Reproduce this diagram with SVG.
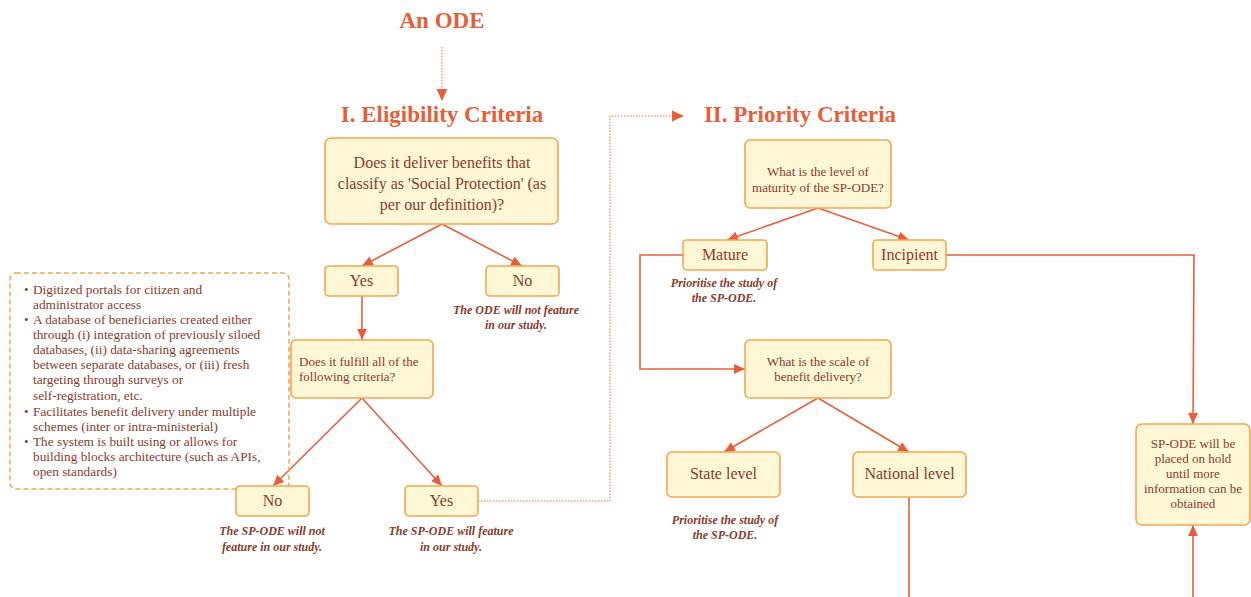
<svg xmlns="http://www.w3.org/2000/svg" width="1251" height="597" viewBox="0 0 1251 597">
<style>
.box{fill:#fff7d6;stroke:#f4a650;stroke-width:1.6}
.t{font-family:"Liberation Serif",serif;fill:#8a3b2b;text-anchor:middle}
.q{font-size:16px}
.s{font-size:13px}
.n{font-family:"Liberation Serif",serif;font-style:italic;font-weight:bold;font-size:12px;fill:#8a3b2b;text-anchor:middle}
.h{font-family:"Liberation Serif",serif;font-weight:bold;font-size:23px;fill:#e5603a;text-anchor:middle}
.c{fill:none;stroke:#e5603a;stroke-width:1.6}
.d{fill:none;stroke:#e8744a;stroke-width:1;stroke-dasharray:1.5 1.5}
.l{font-family:"Liberation Serif",serif;font-size:13.3px;fill:#8a3b2b}
</style>
<defs>
<marker id="ah" viewBox="0 0 10 10" refX="10" refY="5" markerWidth="11" markerHeight="11" markerUnits="userSpaceOnUse" orient="auto">
<path d="M0,0.5 L10,5 L0,9.5 z" fill="#e5603a"/>
</marker>
<marker id="ahb" viewBox="0 0 10 10" refX="10" refY="5" markerWidth="12" markerHeight="12" markerUnits="userSpaceOnUse" orient="auto">
<path d="M0,0.5 L10,5 L0,9.5 z" fill="#e5603a"/>
</marker>
</defs>

<text class="h" x="442" y="28">An ODE</text>
<text class="h" x="442" y="122">I. Eligibility Criteria</text>
<text class="h" x="800" y="122">II. Priority Criteria</text>

<g id="connectors">
<path class="d" d="M442,47 V101" marker-end="url(#ahb)"/>
<path class="c" d="M442,224 L362,266" marker-end="url(#ah)"/>
<path class="c" d="M442,224 L522,266" marker-end="url(#ah)"/>
<path class="c" d="M362,296 V340" marker-end="url(#ah)"/>
<path class="c" d="M362,398 L273,486" marker-end="url(#ah)"/>
<path class="c" d="M362,398 L442,486" marker-end="url(#ah)"/>
<path class="d" d="M478,501 H610 V116 H684" marker-end="url(#ahb)"/>
<path class="c" d="M818,208 L727,240" marker-end="url(#ah)"/>
<path class="c" d="M818,208 L909,240" marker-end="url(#ah)"/>
<path class="c" d="M683,255 H640 V369 H745" marker-end="url(#ah)"/>
<path class="c" d="M818,398 L724,452" marker-end="url(#ah)"/>
<path class="c" d="M818,398 L909,452" marker-end="url(#ah)"/>
<path class="c" d="M909,497 V597"/>
<path class="c" d="M946,255 H1194 L1193,424" marker-end="url(#ah)"/>
<path class="c" d="M1193,597 V525" marker-end="url(#ah)"/>
</g>

<g id="q1">
<rect class="box" x="325" y="138" width="233" height="86" rx="6"/>
<text class="t q" x="442" y="168">Does it deliver benefits that</text>
<text class="t q" x="442" y="189">classify as 'Social Protection' (as</text>
<text class="t q" x="442" y="210">per our definition)?</text>
</g>
<g id="yes1">
<rect class="box" x="325" y="266" width="73" height="30" rx="4"/>
<text class="t q" x="361.5" y="286">Yes</text>
</g>
<g id="no1">
<rect class="box" x="486" y="266" width="73" height="30" rx="4"/>
<text class="t q" x="522.5" y="286">No</text>
<text class="n" x="516" y="314">The ODE will not feature</text>
<text class="n" x="516" y="329">in our study.</text>
</g>
<g id="criteria">
<rect x="10" y="273" width="279" height="216" rx="6" fill="none" stroke="#f4a650" stroke-width="1.5" stroke-dasharray="5 3"/>
<text class="l"><tspan x="24" y="294">•</tspan><tspan x="33" y="294">Digitized portals for citizen and</tspan>
<tspan x="33" y="309">administrator access</tspan>
<tspan x="24" y="324">•</tspan><tspan x="33" y="324">A database of beneficiaries created either</tspan>
<tspan x="33" y="339">through (i) integration of previously siloed</tspan>
<tspan x="33" y="354">databases, (ii) data-sharing agreements</tspan>
<tspan x="33" y="369">between separate databases, or (iii) fresh</tspan>
<tspan x="33" y="384">targeting through surveys or</tspan>
<tspan x="33" y="400">self-registration, etc.</tspan>
<tspan x="24" y="416">•</tspan><tspan x="33" y="416">Facilitates benefit delivery under multiple</tspan>
<tspan x="33" y="431">schemes (inter or intra-ministerial)</tspan>
<tspan x="24" y="446">•</tspan><tspan x="33" y="446">The system is built using or allows for</tspan>
<tspan x="33" y="461">building blocks architecture (such as APIs,</tspan>
<tspan x="33" y="476">open standards)</tspan></text>
</g>
<g id="q2">
<rect class="box" x="291" y="340" width="142" height="58" rx="5"/>
<text class="t s" x="299" y="366" style="text-anchor:start">Does it fulfill all of the</text>
<text class="t s" x="299" y="381" style="text-anchor:start">following criteria?</text>
</g>
<g id="no2">
<rect class="box" x="236" y="486" width="73" height="30" rx="4"/>
<text class="t q" x="272.5" y="506">No</text>
<text class="n" x="272" y="535">The SP-ODE will not</text>
<text class="n" x="272" y="551">feature in our study.</text>
</g>
<g id="yes2">
<rect class="box" x="405" y="486" width="73" height="30" rx="4"/>
<text class="t q" x="441.5" y="506">Yes</text>
<text class="n" x="451" y="535">The SP-ODE will feature</text>
<text class="n" x="451" y="551">in our study.</text>
</g>
<g id="q3">
<rect class="box" x="745" y="140" width="146" height="68" rx="5"/>
<text class="t s" x="818" y="176">What is the level of</text>
<text class="t s" x="818" y="192">maturity of the SP-ODE?</text>
</g>
<g id="mature">
<rect class="box" x="683" y="240" width="84" height="30" rx="4"/>
<text class="t q" x="725" y="260">Mature</text>
<text class="n" x="724" y="287">Prioritise the study of</text>
<text class="n" x="724" y="302">the SP-ODE.</text>
</g>
<g id="incipient">
<rect class="box" x="873" y="240" width="73" height="30" rx="4"/>
<text class="t q" x="909.5" y="260">Incipient</text>
</g>
<g id="q4">
<rect class="box" x="745" y="340" width="146" height="58" rx="5"/>
<text class="t s" x="818" y="366">What is the scale of</text>
<text class="t s" x="818" y="381">benefit delivery?</text>
</g>
<g id="state">
<rect class="box" x="667" y="452" width="113" height="45" rx="5"/>
<text class="t q" x="723.5" y="479">State level</text>
<text class="n" x="725" y="524">Prioritise the study of</text>
<text class="n" x="725" y="539">the SP-ODE.</text>
</g>
<g id="national">
<rect class="box" x="853" y="452" width="113" height="45" rx="5"/>
<text class="t q" x="909.5" y="479">National level</text>
</g>
<g id="hold">
<rect class="box" x="1136" y="424" width="114" height="101" rx="6"/>
<text class="t s" x="1193" y="448">SP-ODE will be</text>
<text class="t s" x="1193" y="463">placed on hold</text>
<text class="t s" x="1193" y="478">until more</text>
<text class="t s" x="1193" y="493">information can be</text>
<text class="t s" x="1193" y="508">obtained</text>
</g>
</svg>
